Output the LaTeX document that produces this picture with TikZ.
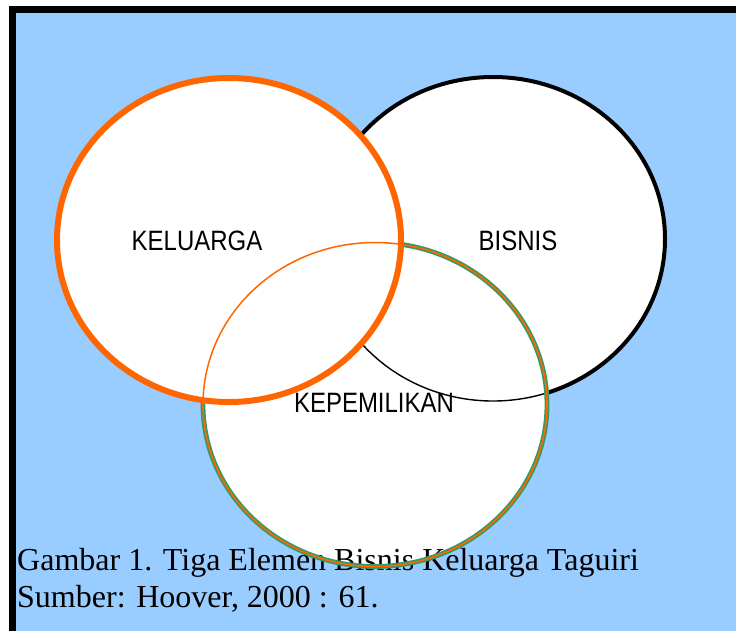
\documentclass[tikz,border=0pt]{standalone}
\usepackage{fontspec}
\setmainfont{Liberation Serif}
\newfontfamily\labelfont{Liberation Sans}
\definecolor{bg}{HTML}{99CCFF}
\definecolor{org}{HTML}{FF6600}
\definecolor{grn}{HTML}{339966}
\tikzset{
  lbl/.style={font=\labelfont\fontsize{28}{28}\selectfont, inner sep=0pt},
  captext/.style={font=\fontsize{32}{32}\selectfont, anchor=base west, inner sep=0pt},
  ell/.style={x radius=172pt, y radius=162pt}
}
\begin{document}
\begin{tikzpicture}[x=1pt,y=-1pt]
\useasboundingbox (0,0) rectangle (736,630);
% background and frame
\fill[bg] (12.25,9.25) rectangle (780,680);
\draw[line width=6.5pt] (12.25,680) -- (12.25,9.25) -- (780,9.25);
% BISNIS
\filldraw[fill=white, draw=black, line width=4pt] (493,239) ellipse [ell];
% KEPEMILIKAN fill, with BISNIS outline seen through
\fill[white] (375,404) ellipse [ell];
\begin{scope}
  \clip (375,404) ellipse [ell];
  \draw[black, line width=1.4pt] (493,239) ellipse [ell];
\end{scope}
% caption
\node[captext] (cap1) at (17,570) {Gambar 1. Tiga Elemen Bisnis Keluarga Taguiri};
\node[captext] (cap2) at (17,607) {Sumber: Hoover, 2000 : 61.};
% KEPEMILIKAN outline
\draw[grn, line width=4.8pt] (375,404.5) ellipse [ell];
\draw[org, line width=1.6pt] (375,404.5) ellipse [ell];
% KELUARGA fill with KEPEMILIKAN outline seen through
\fill[white] (229,240) ellipse [ell];
\begin{scope}
  \clip (229,240) ellipse [ell];
  \draw[org, line width=1.5pt] (375,404.5) ellipse [ell];
\end{scope}
\draw[org, line width=6pt] (229,240) ellipse [ell];
% labels
\node[lbl] (kel) at (197,241) {\scalebox{0.856}[1]{KELUARGA}};
\node[lbl] (bis) at (518,241) {\scalebox{0.856}[1]{BISNIS}};
\node[lbl] (kep) at (374,403) {\scalebox{0.856}[1]{KEPEMILIKAN}};
\end{tikzpicture}
\end{document}
